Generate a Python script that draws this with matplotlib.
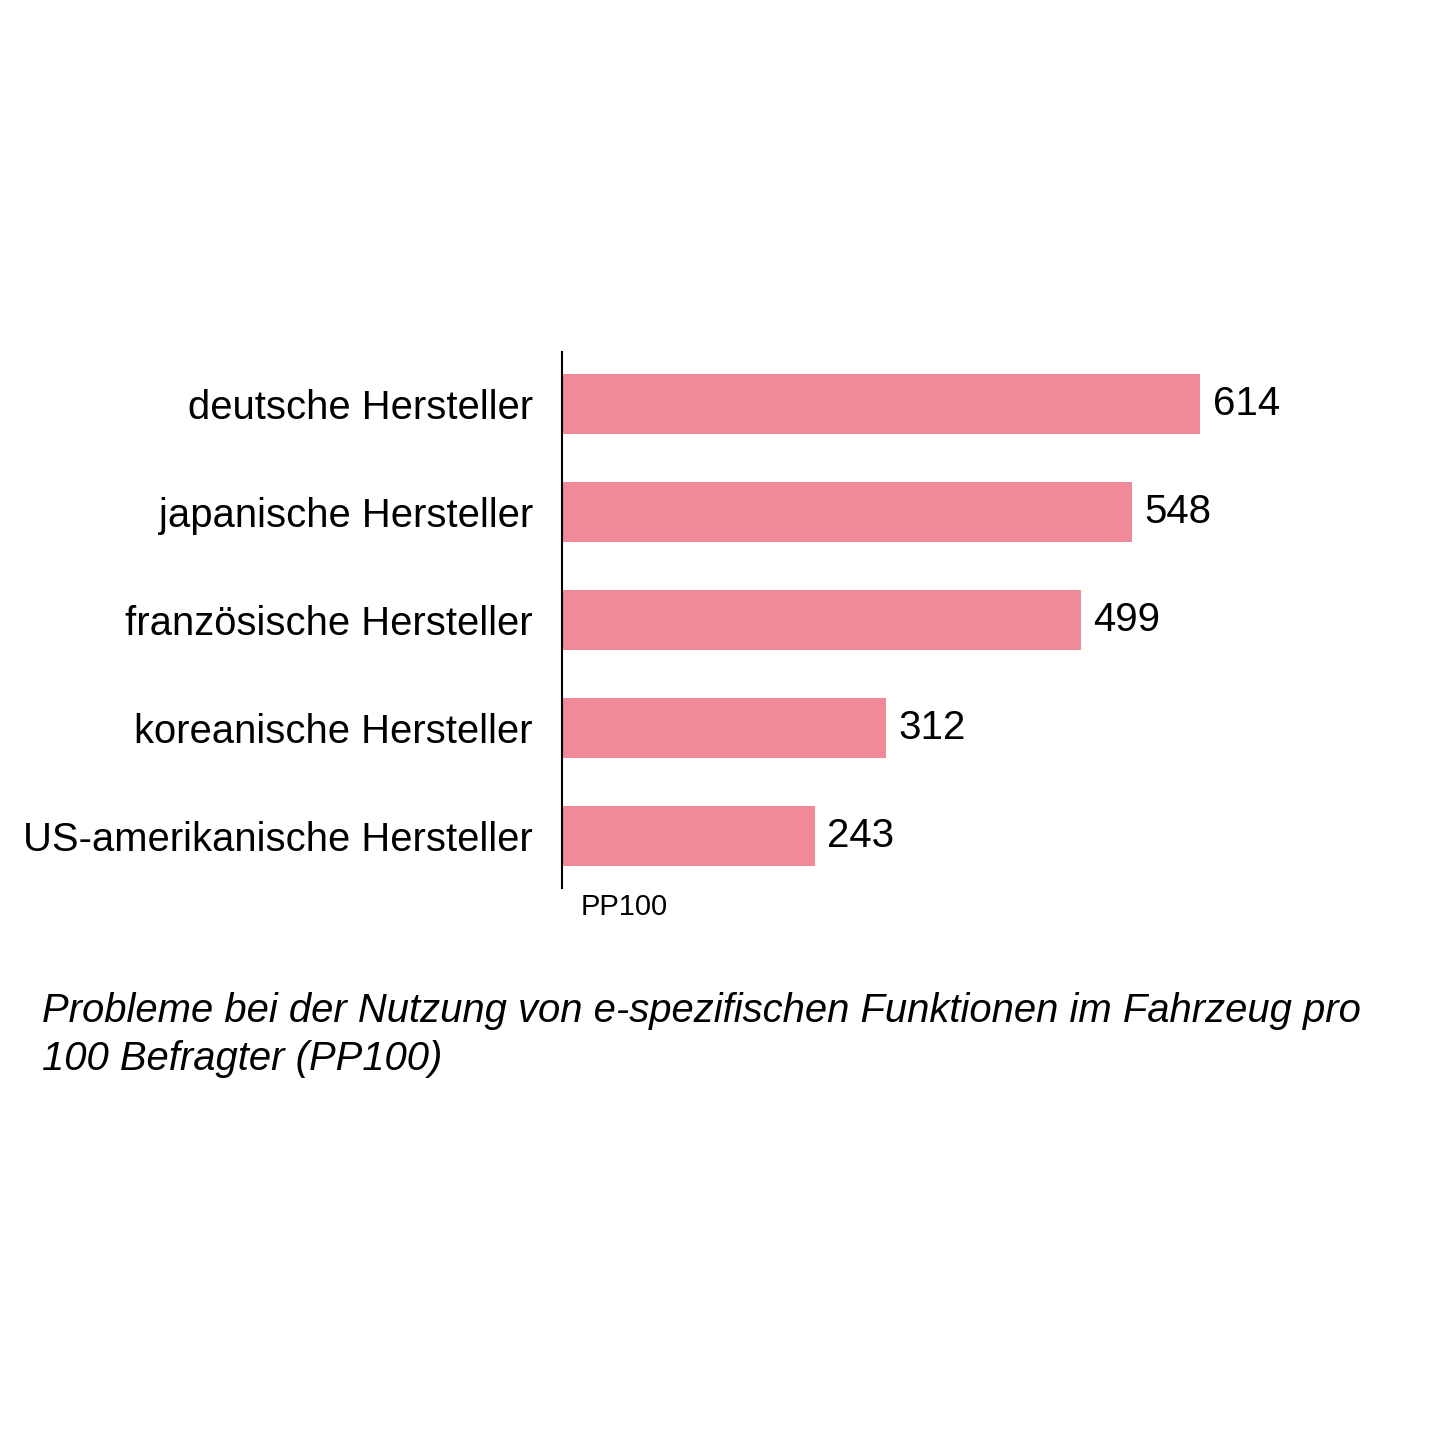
import matplotlib.pyplot as plt

plt.rcParams['font.family'] = ['Liberation Sans', 'DejaVu Sans']

makers = ['deutsche Hersteller', 'japanische Hersteller', 'französische Hersteller',
          'koreanische Hersteller', 'US-amerikanische Hersteller']
pp100 = [614, 548, 499, 312, 243]
bar_color = '#f08a98'

fig = plt.figure(figsize=(14.4, 14.4), dpi=100)
ax = fig.add_axes([562 / 1440, 1 - 888 / 1440, 727.5 / 1440, 536 / 1440])

ypos = list(range(len(makers)))
ax.barh(ypos, pp100, height=0.55, color=bar_color)
ax.set_xlim(0, 700)
ax.set_ylim(len(makers) - 1 + 0.48, -0.48)

for y, v in zip(ypos, pp100):
    ax.text(v + 12, y, str(v), va='center', ha='left', fontsize=29)

ax.set_yticks(ypos)
ax.set_yticklabels(makers, fontsize=28.8)
ax.tick_params(axis='y', length=0, pad=21)
ax.set_xticks([])
for s in ['top', 'right', 'bottom']:
    ax.spines[s].set_visible(False)
ax.spines['left'].set_linewidth(1.5)
ax.spines['left'].set_color('black')

fig.text(581 / 1440, 1 - 907 / 1440, 'PP100', fontsize=21, va='center', ha='left')
fig.text(42 / 1440, 1 - 992 / 1440,
         'Probleme bei der Nutzung von e-spezifischen Funktionen im Fahrzeug pro\n100 Befragter (PP100)',
         fontsize=28.8, style='italic', va='top', ha='left', linespacing=1.33)

fig.savefig('out.png', dpi=100, facecolor='white')
